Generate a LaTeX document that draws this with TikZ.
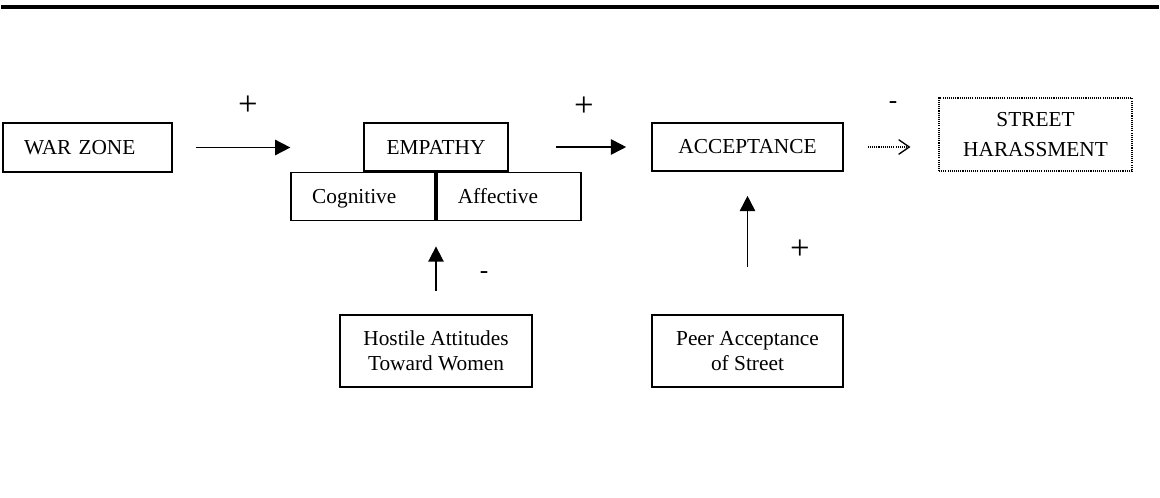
\documentclass[tikz,border=0pt]{standalone}
\usepackage{fontspec}
\setmainfont{Liberation Serif}
\usetikzlibrary{arrows.meta,positioning}

\begin{document}
\begin{tikzpicture}[
  x=0.75pt, y=-0.75pt,
  font=\fontsize{16}{18.75}\selectfont,
  box/.style={draw, line width=1.2pt, align=center, inner sep=2pt},
  leftbox/.style={box, align=left, inner xsep=15.75pt, text height=11pt, text depth=0.4pt},
  dotbox/.style={box, line width=0.8pt, dash pattern=on 0.8pt off 0.8pt},
  arr/.style={-{Triangle[length=11.5pt, width=11.5pt]}, line width=1.3pt},
  dotarr/.style={-{Straight Barb[length=8pt, width=11pt, line width=1pt]},
                 line width=1pt, dash pattern=on 0.8pt off 0.8pt},
  sgn/.style={inner sep=0pt, font=\fontsize{19}{19}\selectfont},
  plus/.style={inner sep=0pt, font=\fontsize{26}{26}\selectfont},
]
\useasboundingbox (0,0) rectangle (1160,497);
\draw[line width=3pt] (1,7) -- (1159,7);

% main row
\node[leftbox, text width=95.25pt, minimum height=36.75pt] (warzone) at (87.5,147.5) {WAR ZONE};
\node[box, minimum width=108pt, minimum height=36pt] (empathy) at (436,147) {EMPATHY};
\node[leftbox, text width=76.5pt, minimum height=36pt, anchor=north east] (cognitive) at (empathy.south) {Cognitive};
\node[leftbox, text width=76.5pt, minimum height=36pt, anchor=north west] (affective) at (empathy.south) {Affective};
\node[box, minimum width=143.25pt, minimum height=36pt] (acceptance) at (747.5,147) {ACCEPTANCE};
\node[dotbox, minimum width=144.75pt, minimum height=54.75pt, font=\fontsize{16}{22.5}\selectfont] (harass) at (1035.5,134.5) {STREET\\HARASSMENT};

% moderators
\node[box, minimum width=144pt, minimum height=54pt] (hostile) at (436,351) {Hostile Attitudes\\Toward Women};
\node[box, minimum width=143.25pt, minimum height=54pt] (peer) at (747.5,351) {Peer Acceptance\\of Street};

\draw[arr, shorten <=17.25pt] (warzone.east) -- (warzone.east -| cognitive.west);
\draw[arr, shorten <=35.25pt, shorten >=18.75pt] (empathy.east) -- (acceptance.west);
\draw[dotarr, shorten <=18pt, shorten >=21pt] (acceptance.east) -- (acceptance.east -| harass.west);
\draw[arr, shorten <=17.25pt, shorten >=18.75pt] (hostile.north) -- (cognitive.south east);
\draw[arr, shorten <=35.25pt, shorten >=18pt] (peer.north) -- (acceptance.south);

% signs
\node[plus] (plusone) at (248,106) {+};
\node[plus] (plustwo) at (584,107) {+};
\node[plus] (plusthree) at (800,250) {+};
\node[sgn] (minusone) at (893,105) {-};
\node[sgn] (minustwo) at (484,275) {-};
\end{tikzpicture}
\end{document}
